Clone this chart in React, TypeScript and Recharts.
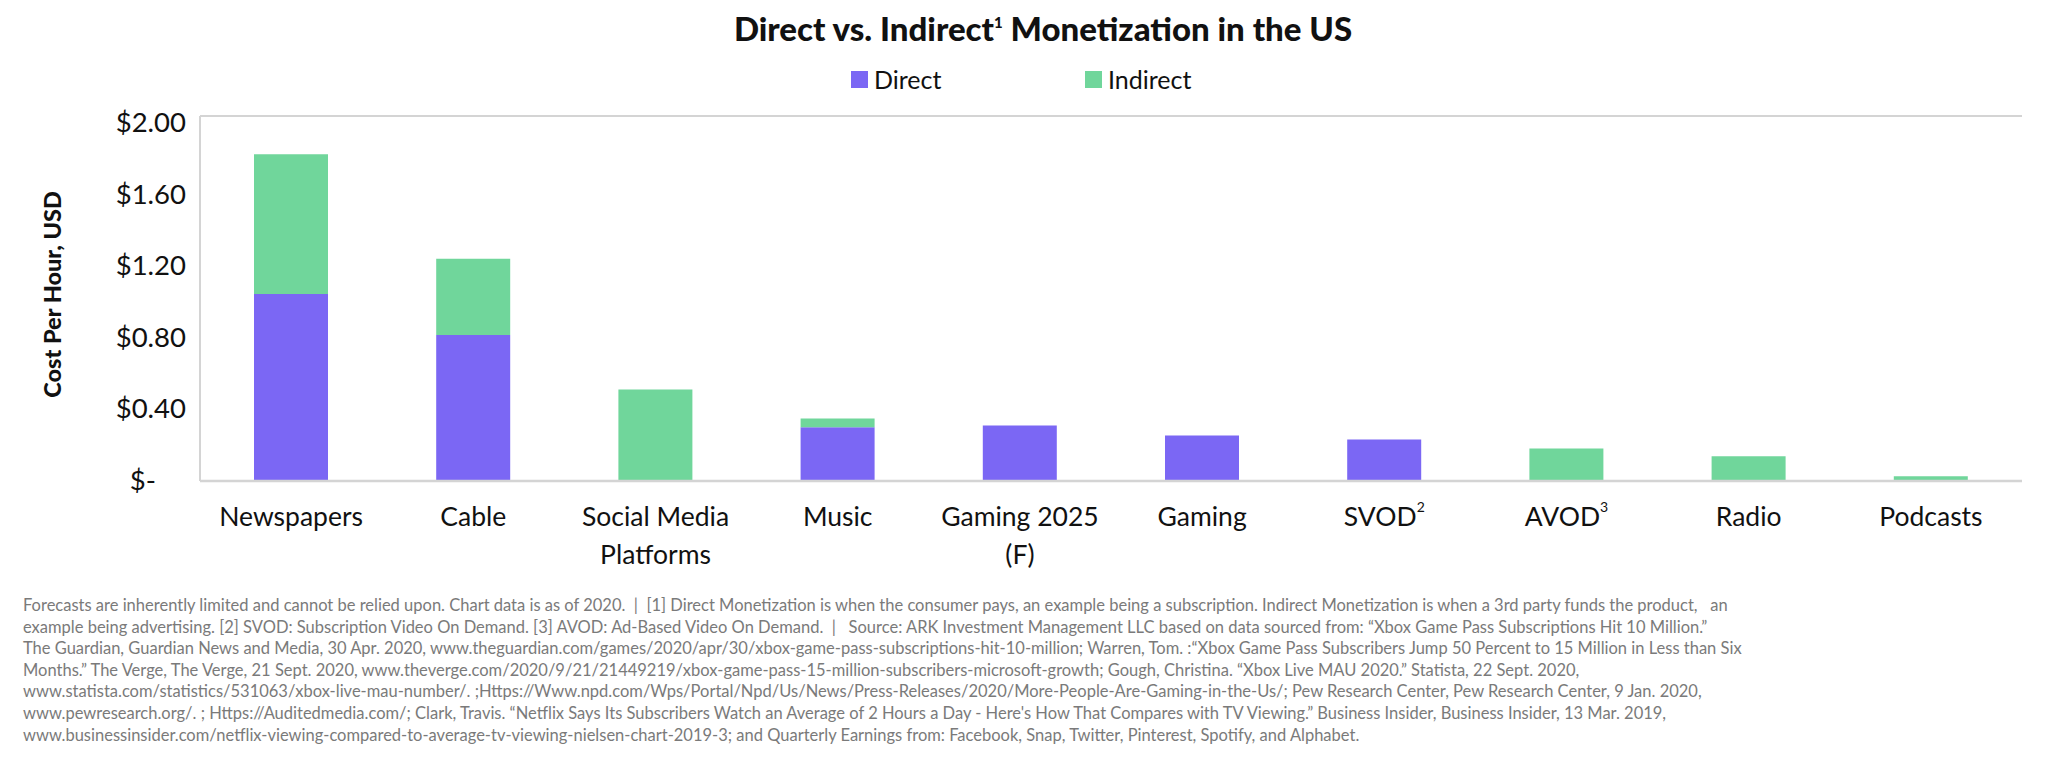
import React from "react";
import { BarChart, Bar, XAxis, YAxis, ReferenceLine } from "recharts";

const categories = ["Newspapers", "Cable", "Social Media Platforms", "Music", "Gaming 2025 (F)", "Gaming", "SVOD", "AVOD", "Radio", "Podcasts"];
const directValues = [1.045, 0.816, 0, 0.3, 0.31, 0.255, 0.232, 0, 0, 0];
const indirectValues = [0.781, 0.426, 0.512, 0.05, 0, 0, 0, 0.182, 0.138, 0.027];
const tickLines = [["Newspapers"], ["Cable"], ["Social Media", "Platforms"], ["Music"], ["Gaming 2025", "(F)"], ["Gaming"], ["SVOD"], ["AVOD"], ["Radio"], ["Podcasts"]];
const tickSup = ["", "", "", "", "", "", "2", "3", "", ""];
const yTicks = [0, 0.4, 0.8, 1.2, 1.6, 2.0];
const yTickLabels = ["$-", "$0.40", "$0.80", "$1.20", "$1.60", "$2.00"];
const yMax = 2.04;
const seriesNames = ["Direct", "Indirect"];
const seriesColors = ["#7b67f4", "#70d69b"];

const footnoteLines = [
  "Forecasts are inherently limited and cannot be relied upon. Chart data is as of 2020.  |  [1] Direct Monetization is when the consumer pays, an example being a subscription. Indirect Monetization is when a 3rd party funds the product,   an",
  "example being advertising. [2] SVOD: Subscription Video On Demand. [3] AVOD: Ad-Based Video On Demand.  |   Source: ARK Investment Management LLC based on data sourced from: \u201cXbox Game Pass Subscriptions Hit 10 Million.\u201d",
  "The Guardian, Guardian News and Media, 30 Apr. 2020, www.theguardian.com/games/2020/apr/30/xbox-game-pass-subscriptions-hit-10-million; Warren, Tom. :\u201cXbox Game Pass Subscribers Jump 50 Percent to 15 Million in Less than Six",
  "Months.\u201d The Verge, The Verge, 21 Sept. 2020, www.theverge.com/2020/9/21/21449219/xbox-game-pass-15-million-subscribers-microsoft-growth; Gough, Christina. \u201cXbox Live MAU 2020.\u201d Statista, 22 Sept. 2020,",
  "www.statista.com/statistics/531063/xbox-live-mau-number/. ;Https://Www.npd.com/Wps/Portal/Npd/Us/News/Press-Releases/2020/More-People-Are-Gaming-in-the-Us/; Pew Research Center, Pew Research Center, 9 Jan. 2020,",
  "www.pewresearch.org/. ; Https://Auditedmedia.com/; Clark, Travis. \u201cNetflix Says Its Subscribers Watch an Average of 2 Hours a Day - Here's How That Compares with TV Viewing.\u201d Business Insider, Business Insider, 13 Mar. 2019,",
  "www.businessinsider.com/netflix-viewing-compared-to-average-tv-viewing-nielsen-chart-2019-3; and Quarterly Earnings from: Facebook, Snap, Twitter, Pinterest, Spotify, and Alphabet.",
];

const data = categories.map((name, i) => ({ name, direct: directValues[i], indirect: indirectValues[i] }));

const FONT = "Lato, 'Noto Sans', sans-serif";
const BORDER = "#d4d4d4";

const XTick = (props: any) => {
  const { x, y, index } = props;
  const lines = tickLines[index] || [props.payload.value];
  const sup = tickSup[index];
  return (
    <g transform={`translate(${x},${y})`}>
      {lines.map((ln: string, k: number) => (
        <text key={k} x={0} y={37 + k * 38} textAnchor="middle" fontSize={26.5} fill="#111" fontFamily={FONT}>
          {ln}
          {sup && k === 0 ? (
            <tspan fontSize={14} dy={-14}>{sup}</tspan>
          ) : null}
        </text>
      ))}
    </g>
  );
};

const YTick = (props: any) => {
  const { x, y, payload } = props;
  const idx = yTicks.findIndex((t) => Math.abs(t - payload.value) < 1e-6);
  const label = idx >= 0 ? yTickLabels[idx] : String(payload.value);
  const isZero = idx === 0;
  return (
    <text x={isZero ? x - 36 : x - 6} y={y + 9} textAnchor="end" fontSize={27.5} fill="#111" fontFamily={FONT}>
      {label}
    </text>
  );
};

const YLabel = (props: any) => {
  const { viewBox } = props;
  const cx = viewBox.x - 48;
  const cy = viewBox.y + viewBox.height / 2 - 4;
  return (
    <text x={cx} y={cy} transform={`rotate(-90, ${cx}, ${cy})`} textAnchor="middle" dominantBaseline="central" fontSize={23.5} fontWeight={900} fill="#111" fontFamily={FONT}>
      Cost Per Hour, USD
    </text>
  );
};

export default function App() {
  return (
    <div style={{ position: "absolute", left: 0, top: 0, width: 2048, height: 762, background: "#fff", fontFamily: FONT, overflow: "hidden" }}>
      <div style={{ position: "absolute", left: 1043, top: 8, transform: "translateX(-50%)", whiteSpace: "nowrap", fontSize: 33, fontWeight: 900, color: "#111" }}>
        Direct vs. Indirect<sup style={{ fontSize: 15, verticalAlign: "top", position: "relative", top: 5 }}>1</sup> Monetization in the US
      </div>
      <div style={{ position: "absolute", left: 851, top: 64, display: "flex", whiteSpace: "nowrap" }}>
        {seriesNames.map((n, i) => (
          <div key={n} style={{ width: 234, display: "flex", alignItems: "center" }}>
            <div style={{ width: 17, height: 17, background: seriesColors[i], marginRight: 6 }} />
            <span style={{ fontSize: 25, color: "#111" }}>{n}</span>
          </div>
        ))}
      </div>
      <div style={{ position: "absolute", left: 0, top: 0 }}>
        <BarChart width={2048} height={762} data={data} margin={{ top: 116, right: 26, bottom: 201, left: 100 }} barSize={74}>
          <XAxis dataKey="name" interval={0} height={80} tickLine={false} axisLine={{ stroke: BORDER, strokeWidth: 2.5 }} tick={<XTick />} />
          <YAxis domain={[0, yMax]} ticks={yTicks} width={100} tickLine={false} axisLine={{ stroke: BORDER, strokeWidth: 2 }} tick={<YTick />} label={<YLabel />} />
          <YAxis yAxisId="right" orientation="right" domain={[0, yMax]} width={0} tick={false} tickLine={false} axisLine={{ stroke: BORDER, strokeWidth: 2 }} />
          <ReferenceLine y={yMax} stroke={BORDER} strokeWidth={2} ifOverflow="extendDomain" />
          <Bar dataKey="direct" name={seriesNames[0]} stackId="a" fill={seriesColors[0]} isAnimationActive={false} />
          <Bar dataKey="indirect" name={seriesNames[1]} stackId="a" fill={seriesColors[1]} isAnimationActive={false} />
        </BarChart>
      </div>
      <div style={{ position: "absolute", left: 23, top: 595, fontSize: 16.5, lineHeight: "21.6px", color: "#7a7a7a" }}>
        {footnoteLines.map((l, i) => (
          <div key={i} style={{ whiteSpace: "pre" }}>{l}</div>
        ))}
      </div>
    </div>
  );
}
